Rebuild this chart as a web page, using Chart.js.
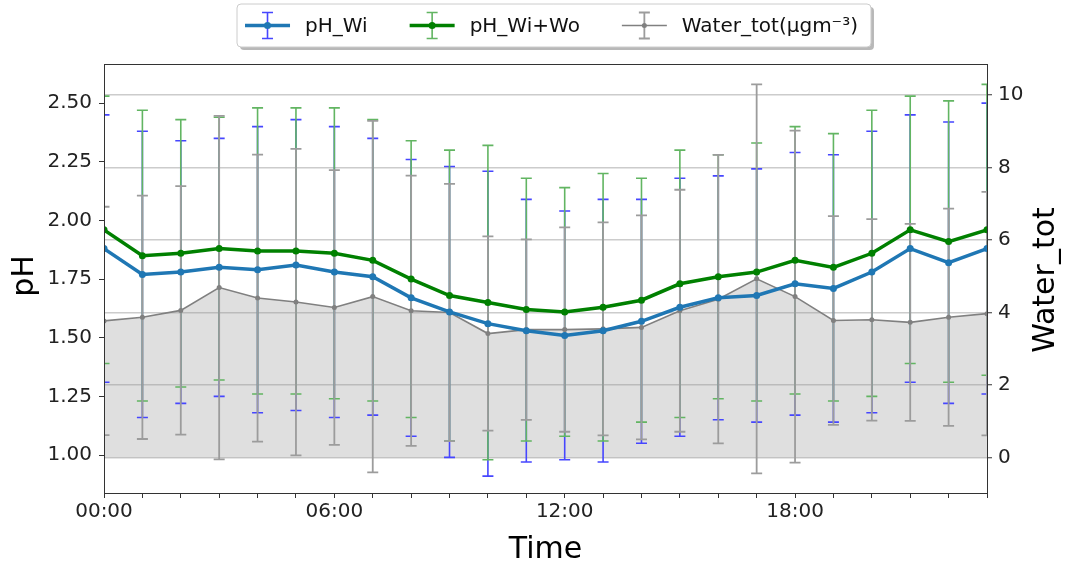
<!DOCTYPE html>
<html>
<head>
<meta charset="utf-8">
<title>Diurnal pH and aerosol water</title>
<script src="https://cdn.jsdelivr.net/npm/chart.js@4.4.1/dist/chart.umd.min.js"></script>
<style>
  html, body { margin: 0; padding: 0; background: #fff; }
  canvas { display: block; }
</style>
</head>
<body>
<canvas id="chart" width="1069" height="564"></canvas>
<script>
// hourly means, 00:00 .. 23:00
const hours = [0, 1, 2, 3, 4, 5, 6, 7, 8, 9, 10, 11, 12, 13, 14, 15, 16, 17, 18, 19, 20, 21, 22, 23];
const hourTicks = [0, 6, 12, 18];
const hourTickLabels = ['00:00', '06:00', '12:00', '18:00'];
const phTicks = [1.0, 1.25, 1.5, 1.75, 2.0, 2.25, 2.5];
const waterTicks = [0, 2, 4, 6, 8, 10];

const phWi = [1.88, 1.77, 1.78, 1.80, 1.79, 1.81, 1.78, 1.76, 1.67, 1.61, 1.56, 1.53,
              1.51, 1.53, 1.57, 1.63, 1.67, 1.68, 1.73, 1.71, 1.78, 1.88, 1.82, 1.88];
const phWiErr = [0.57, 0.61, 0.56, 0.55, 0.61, 0.62, 0.62, 0.59, 0.59, 0.62, 0.65, 0.56,
                 0.53, 0.56, 0.52, 0.55, 0.52, 0.54, 0.56, 0.57, 0.60, 0.57, 0.60, 0.62];

const phWiWo = [1.96, 1.85, 1.86, 1.88, 1.87, 1.87, 1.86, 1.83, 1.75, 1.68, 1.65, 1.62,
                1.61, 1.63, 1.66, 1.73, 1.76, 1.78, 1.83, 1.80, 1.86, 1.96, 1.91, 1.96];
const phWiWoErr = [0.57, 0.62, 0.57, 0.56, 0.61, 0.61, 0.62, 0.60, 0.59, 0.62, 0.67, 0.56,
                   0.53, 0.57, 0.52, 0.57, 0.52, 0.55, 0.57, 0.57, 0.61, 0.57, 0.60, 0.62];

const waterTot = [3.77, 3.87, 4.06, 4.69, 4.40, 4.29, 4.14, 4.44, 4.05, 4.00, 3.42, 3.53,
                  3.53, 3.55, 3.59, 4.05, 4.37, 4.93, 4.44, 3.78, 3.80, 3.73, 3.87, 3.97];
const waterErr = [3.15, 3.36, 3.43, 4.74, 3.96, 4.23, 3.79, 4.85, 3.73, 3.55, 2.68, 2.49,
                  2.82, 2.94, 3.09, 3.34, 3.98, 5.37, 4.58, 2.88, 2.78, 2.72, 3.00, 3.36];

const FONT = '"DejaVu Sans", sans-serif';
Chart.defaults.font.family = FONT;
Chart.defaults.color = '#222';

const toPoints = (ys) => hours.map((h, i) => ({ x: h, y: ys[i] }));

// vertical error bars with caps, drawn under the lines (blue, then green, then gray)
const errorBars = {
  id: 'errorBars',
  beforeDatasetsDraw(chart) {
    const { ctx, chartArea: a } = chart;
    const xs = chart.scales.x;
    ctx.save();
    ctx.beginPath();
    ctx.rect(a.left, a.top, a.right - a.left, a.bottom - a.top);
    ctx.clip();
    chart.data.datasets.forEach((ds) => {
      if (!ds.errors) return;
      const ys = chart.scales[ds.yAxisID];
      ctx.strokeStyle = ds.errorColor;
      ctx.lineWidth = ds.errorWidth;
      ds.data.forEach((p, i) => {
        const x = xs.getPixelForValue(p.x);
        const top = ys.getPixelForValue(p.y + ds.errors[i]);
        const bot = ys.getPixelForValue(p.y - ds.errors[i]);
        ctx.beginPath();
        ctx.moveTo(x, top); ctx.lineTo(x, bot);
        ctx.moveTo(x - 5.5, top); ctx.lineTo(x + 5.5, top);
        ctx.moveTo(x - 5.5, bot); ctx.lineTo(x + 5.5, bot);
        ctx.stroke();
      });
    });
    ctx.restore();
  }
};

// axes frame, axis titles and the framed legend on top
const decorations = {
  id: 'decorations',
  afterDraw(chart) {
    const { ctx, chartArea: a } = chart;
    ctx.save();
    ctx.strokeStyle = '#333';
    ctx.lineWidth = 1;
    ctx.strokeRect(a.left + 0.5, a.top + 0.5, a.right - a.left, a.bottom - a.top);

    ctx.fillStyle = '#000';
    ctx.font = '30px ' + FONT;
    ctx.textAlign = 'center';
    ctx.textBaseline = 'alphabetic';
    ctx.fillText('Time', (a.left + a.right) / 2, 558);
    ctx.save();
    ctx.translate(33, 276);
    ctx.rotate(-Math.PI / 2);
    ctx.fillText('pH', 0, 0);
    ctx.restore();
    ctx.save();
    ctx.translate(1054, 280);
    ctx.rotate(-Math.PI / 2);
    ctx.fillText('Water_tot', 0, 0);
    ctx.restore();

    // legend
    ctx.font = '20px ' + FONT;
    const sets = chart.data.datasets;
    const handle = 45, gap = 15, colGap = 42, padL = 8, padR = 13;
    const widths = sets.map((ds) => ctx.measureText(ds.label).width);
    let total = padL + padR;
    widths.forEach((w, i) => { total += handle + gap + w + (i ? colGap : 0); });
    const bx = 554 - total / 2, by = 4, bh = 43;
    const cy = by + bh / 2;

    ctx.fillStyle = 'rgba(0,0,0,0.28)';
    ctx.beginPath();
    ctx.roundRect(bx + 3, by + 3, total, bh, 4);
    ctx.fill();
    ctx.fillStyle = '#fff';
    ctx.strokeStyle = '#cccccc';
    ctx.beginPath();
    ctx.roundRect(bx, by, total, bh, 4);
    ctx.fill();
    ctx.stroke();

    let x = bx + padL;
    sets.forEach((ds, i) => {
      if (i) x += colGap;
      const mid = x + handle / 2;
      ctx.strokeStyle = ds.errorColor;
      ctx.lineWidth = ds.errorWidth;
      ctx.beginPath();
      ctx.moveTo(mid, cy - 13); ctx.lineTo(mid, cy + 13);
      ctx.moveTo(mid - 5.5, cy - 13); ctx.lineTo(mid + 5.5, cy - 13);
      ctx.moveTo(mid - 5.5, cy + 13); ctx.lineTo(mid + 5.5, cy + 13);
      ctx.stroke();
      ctx.strokeStyle = ds.borderColor;
      ctx.lineWidth = ds.borderWidth;
      ctx.beginPath();
      ctx.moveTo(x, cy); ctx.lineTo(x + handle, cy);
      ctx.stroke();
      ctx.fillStyle = ds.borderColor;
      ctx.beginPath();
      ctx.arc(mid, cy, ds.pointRadius, 0, Math.PI * 2);
      ctx.fill();
      ctx.fillStyle = '#111';
      ctx.textAlign = 'left';
      ctx.textBaseline = 'middle';
      ctx.fillText(ds.label, x + handle + gap, cy + 1);
      x += handle + gap + widths[i];
    });
    ctx.restore();
  }
};

const tickGrid = { drawOnChartArea: false, tickLength: 5, tickColor: '#333', tickWidth: 1 };

new Chart(document.getElementById('chart'), {
  type: 'line',
  data: {
    datasets: [
      {
        label: 'pH_Wi',
        data: toPoints(phWi),
        errors: phWiErr,
        errorColor: '#4646ff',
        errorWidth: 1.6,
        yAxisID: 'y',
        borderColor: '#1f77b4',
        backgroundColor: '#1f77b4',
        borderWidth: 3.5,
        pointRadius: 3.5,
        pointBorderWidth: 0,
        tension: 0
      },
      {
        label: 'pH_Wi+Wo',
        data: toPoints(phWiWo),
        errors: phWiWoErr,
        errorColor: '#62b562',
        errorWidth: 1.6,
        yAxisID: 'y',
        borderColor: '#008000',
        backgroundColor: '#008000',
        borderWidth: 3.5,
        pointRadius: 3.5,
        pointBorderWidth: 0,
        tension: 0
      },
      {
        label: 'Water_tot(μgm⁻³)',
        data: toPoints(waterTot),
        errors: waterErr,
        errorColor: '#9c9c9c',
        errorWidth: 1.8,
        yAxisID: 'y1',
        borderColor: '#808080',
        backgroundColor: 'rgba(150,150,150,0.3)',
        pointBackgroundColor: '#808080',
        borderWidth: 1.6,
        pointRadius: 2.5,
        pointBorderWidth: 0,
        fill: { value: 0 },
        tension: 0
      }
    ]
  },
  options: {
    responsive: false,
    devicePixelRatio: 1,
    animation: false,
    layout: { padding: { top: 64, left: 0, right: 0, bottom: 0 } },
    plugins: {
      legend: { display: false },
      tooltip: { enabled: false },
      filler: { drawTime: 'beforeDatasetsDraw' }
    },
    scales: {
      x: {
        type: 'linear',
        min: 0,
        max: 23,
        border: { display: false },
        grid: tickGrid,
        afterBuildTicks: (axis) => { axis.ticks = hours.map((h) => ({ value: h })); },
        afterFit: (axis) => { axis.height = 71; },
        ticks: {
          autoSkip: false,
          maxRotation: 0,
          padding: 2,
          font: { size: 20 },
          callback: (v) => {
            const k = hourTicks.indexOf(v);
            return k >= 0 ? hourTickLabels[k] : '';
          }
        }
      },
      y: {
        position: 'left',
        min: 0.838,
        max: 2.667,
        border: { display: false },
        grid: tickGrid,
        afterBuildTicks: (axis) => { axis.ticks = phTicks.map((v) => ({ value: v })); },
        afterFit: (axis) => { axis.width = 104; },
        ticks: {
          padding: 7,
          font: { size: 20 },
          callback: (v) => v.toFixed(2)
        }
      },
      y1: {
        position: 'right',
        min: -0.98,
        max: 10.86,
        border: { display: false },
        grid: {
          drawOnChartArea: true,
          color: '#cccccc',
          lineWidth: 1.5,
          tickLength: 5,
          tickColor: '#333',
          tickWidth: 1
        },
        afterBuildTicks: (axis) => { axis.ticks = waterTicks.map((v) => ({ value: v })); },
        afterFit: (axis) => { axis.width = 82; },
        ticks: {
          padding: 6,
          font: { size: 20 }
        }
      }
    }
  },
  plugins: [errorBars, decorations]
});
</script>
</body>
</html>
